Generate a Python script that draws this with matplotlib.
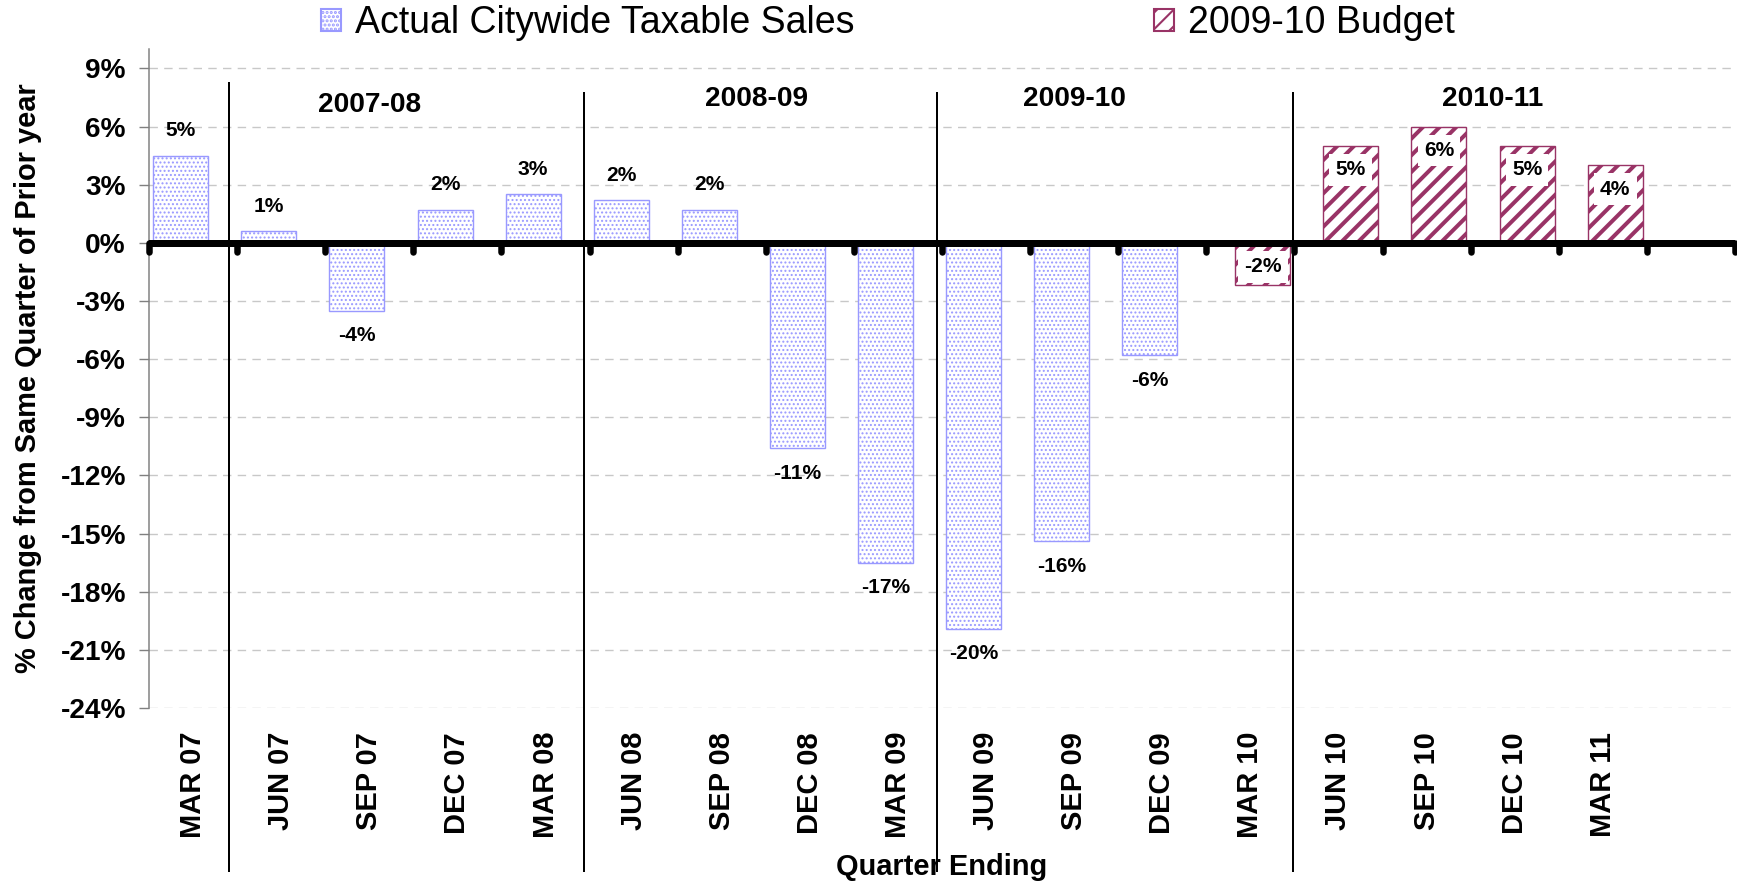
import numpy as np
import matplotlib.pyplot as plt
from matplotlib.patches import Patch

plt.rcParams['font.family'] = ['Liberation Sans', 'DejaVu Sans']

DPI = 150


def px(v):
    # piksele -> punkty
    return v * 72 / DPI


# dane
quarters = ['MAR 07', 'JUN 07', 'SEP 07', 'DEC 07', 'MAR 08', 'JUN 08', 'SEP 08',
            'DEC 08', 'MAR 09', 'JUN 09', 'SEP 09', 'DEC 09', 'MAR 10', 'JUN 10',
            'SEP 10', 'DEC 10', 'MAR 11', '']
actual_idx = np.arange(0, 12)
actual = [4.5, 0.6, -3.5, 1.7, 2.5, 2.2, 1.7, -10.6, -16.5, -19.9, -15.4, -5.8]
actual_lbl = ['5%', '1%', '-4%', '2%', '3%', '2%', '2%', '-11%', '-17%', '-20%', '-16%', '-6%']
budget_idx = np.arange(12, 17)
budget = [-2.2, 5.0, 6.0, 5.0, 4.0]
budget_lbl = ['-2%', '5%', '6%', '5%', '4%']
years = ['2007-08', '2008-09', '2009-10', '2010-11']
year_x = [2.0, 6.39, 10.0, 14.75]
year_y = [7.12, 7.43, 7.43, 7.43]
divider_x = [0.41, 4.44, 8.44, 12.48]
divider_top = [8.26, 7.74, 7.74, 7.74]

blue = '#9999ff'
plum = '#993366'

fig = plt.figure(figsize=(1737 / DPI, 885 / DPI), dpi=DPI)
ax = fig.add_axes([149 / 1737, 0.2, 1586 / 1737, 659 / 885])
ax.set_axisbelow(True)

with plt.rc_context({'hatch.linewidth': px(1.3)}):
    b1 = ax.bar(actual_idx - 0.14, actual, 0.625, color='white', edgecolor=blue,
                hatch='......', lw=px(1.4), zorder=2)
with plt.rc_context({'hatch.linewidth': px(4.0)}):
    b2 = ax.bar(budget_idx + 0.14, budget, 0.625, color='white', edgecolor=plum,
                hatch='///', lw=px(1.4), zorder=2)
for b, lw in ((b1, px(1.3)), (b2, px(4.0))):
    for p in b:
        if hasattr(p, 'set_hatch_linewidth'):
            p.set_hatch_linewidth(lw)

# etykiety
for x, v, t in zip(actual_idx - 0.14, actual, actual_lbl):
    off = 25 if v >= 0 else -25
    ax.annotate(t, (x, v), xytext=(0, off), textcoords='offset pixels',
                ha='center', va='center', fontsize=px(21), fontweight='bold', zorder=5)
for x, v, t in zip(budget_idx + 0.14, budget, budget_lbl):
    ax.annotate(t, (x, max(v, 0)), xytext=(0, -24), textcoords='offset pixels',
                ha='center', va='center', fontsize=px(21), fontweight='bold', zorder=5,
                bbox=dict(boxstyle='square,pad=0.3', fc='white', ec='none'))

# os zero
ax.axhline(0, color='black', lw=px(7), zorder=3)
ax.vlines(np.arange(-0.5, 18, 1), -0.46, 0, color='black', lw=px(6.5),
          capstyle='round', zorder=3, clip_on=False)

for x, top in zip(divider_x, divider_top):
    ax.plot([x, x], [top, -32.4], color='black', lw=px(2), clip_on=False, zorder=4)
for x, y, t in zip(year_x, year_y, years):
    ax.text(x, y, t, ha='center', va='center', fontsize=px(28), fontweight='bold')

ax.set_xlim(-0.5, 17.5)
ax.set_ylim(-24, 10)
yt = np.arange(-24, 10, 3)
ax.set_yticks(yt, labels=[f'{v}%' for v in yt], fontsize=px(28), fontweight='bold')
ax.set_xticks(np.arange(len(quarters)), labels=quarters, rotation=90,
              fontsize=px(29), fontweight='bold')
ax.tick_params(axis='x', length=0, pad=px(24))
ax.tick_params(axis='y', length=px(10), width=px(1.4), color='#808080', pad=px(13))
ax.grid(axis='y', color='#c8c8c8', ls=(0, (6, 4.5)), lw=px(1.4))
for s in ['top', 'right', 'bottom']:
    ax.spines[s].set_visible(False)
ax.spines['left'].set_color('#808080')
ax.spines['left'].set_linewidth(px(1.5))

ax.set_ylabel('% Change from Same Quarter of Prior year', fontsize=px(29), fontweight='bold')
ax.yaxis.set_label_coords(-0.0763, 0.5)
ax.set_xlabel('Quarter Ending', fontsize=px(29), fontweight='bold')
ax.xaxis.set_label_coords(0.5, -0.241)
ax.xaxis.label.set_va('center')
ax.yaxis.label.set_va('center')

handles = [Patch(facecolor='white', edgecolor=blue, hatch='......'),
           Patch(facecolor='white', edgecolor=plum, hatch='///')]
fig.legend(handles, ['Actual Citywide Taxable Sales', '2009-10 Budget'],
           loc='center left', bbox_to_anchor=(321 / 1737, 1 - 23 / 885), ncol=2,
           frameon=False, fontsize=px(37.5), handlelength=0.53, handleheight=0.53,
           handletextpad=0.37, columnspacing=8.0, borderpad=0, borderaxespad=0)

plt.savefig('out.png', dpi=DPI)
